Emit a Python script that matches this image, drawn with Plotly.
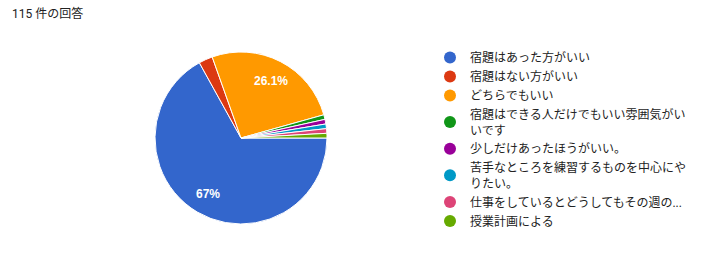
import math
import plotly.graph_objects as go

title_text = "115 件の回答"
labels = [
    "宿題はあった方がいい",
    "宿題はない方がいい",
    "どちらでもいい",
    "宿題はできる人だけでもいい雰囲気がい<br>いです",
    "少しだけあったほうがいい。",
    "苦手なところを練習するものを中心にや<br>りたい。",
    "仕事をしているとどうしてもその週の...",
    "授業計画による",
]
values = [77, 3, 30, 1, 1, 1, 1, 1]
colors = ["#3366cc", "#dc3912", "#ff9900", "#109618", "#990099", "#0099c6", "#dd4477", "#66aa00"]

total = sum(values)

W, H = 706, 253
cx, cy, r = 241, 138, 86

fig = go.Figure()
fig.add_trace(go.Pie(
    labels=labels, values=values, textinfo="none",
    sort=False, direction="clockwise", rotation=90,
    marker=dict(colors=colors, line=dict(color="white", width=1)),
    showlegend=False, hoverinfo="label+percent",
    domain=dict(x=[(cx - r) / W, (cx + r) / W], y=[(H - cy - r) / H, (H - cy + r) / H]),
))
for lab, col in zip(labels, colors):
    fig.add_trace(go.Scatter(x=[None], y=[None], mode="markers", name=lab,
                             marker=dict(color=col, size=12, symbol="circle")))

annotations = [dict(text=title_text, x=10 / W, y=1 - 4 / H, xref="paper", yref="paper",
                    xanchor="left", yanchor="top", showarrow=False,
                    font=dict(size=12, color="#222222"))]
cum = 0
for v in values:
    p = v / total
    mid = 90 + (cum + p / 2) * 360
    cum += p
    if p * 100 < 5:
        continue
    a = math.radians(mid)
    px = cx + 0.75 * r * math.sin(a)
    py = cy - 0.75 * r * math.cos(a)
    annotations.append(dict(text=f"<b>{p * 100:.3g}%</b>", x=px / W, y=1 - py / H, xref="paper", yref="paper",
                            xanchor="center", yanchor="middle", showarrow=False,
                            font=dict(size=12, color="white", family="Liberation Sans, Arial, sans-serif")))

fig.update_layout(
    width=W, height=H,
    margin=dict(l=0, r=0, t=0, b=0),
    paper_bgcolor="white", plot_bgcolor="white",
    font=dict(family="Roboto, Noto Sans CJK JP, sans-serif", size=12, color="#222222"),
    xaxis=dict(visible=False), yaxis=dict(visible=False),
    legend=dict(x=430 / W, y=1 - 43 / H, xanchor="left", yanchor="top",
                font=dict(size=12, color="#222222"), itemsizing="constant",
                tracegroupgap=0),
    annotations=annotations,
)
fig.write_html("out.html")
